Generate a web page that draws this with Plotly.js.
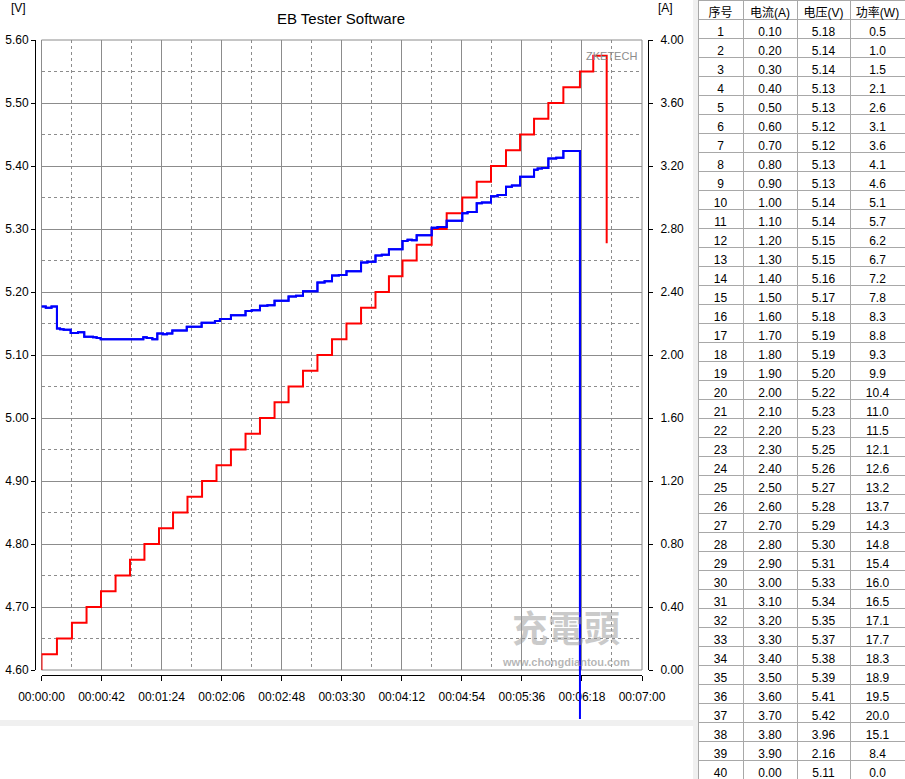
<!DOCTYPE html>
<html><head><meta charset="utf-8">
<script src="https://cdn.plot.ly/plotly-3.0.1.min.js"></script>
<style>html,body{margin:0;padding:0;background:#fff;}#chart{width:905px;height:779px;}</style>
</head><body><div id="chart"></div>
<script>
// ---- Current (red) step series: time in seconds, current in A ----
const curTime = [0, 0, 10.8, 21.3, 31.5, 41.6, 51.8, 61.9, 72.0, 82.2, 92.0, 102.1, 112.3, 122.4, 132.5, 142.7, 152.8, 163.0, 172.8, 182.9, 193.0, 203.2, 213.3, 223.5, 233.6, 243.0, 252.5, 262.4, 272.9, 283.4, 294.3, 304.4, 314.4, 324.9, 334.7, 344.5, 354.5, 365.0, 376.6, 385.9, 395.3];
const curAmps = [0, 0.1, 0.2, 0.3, 0.4, 0.5, 0.6, 0.7, 0.8, 0.9, 1.0, 1.1, 1.2, 1.3, 1.4, 1.5, 1.6, 1.7, 1.8, 1.9, 2.0, 2.1, 2.2, 2.3, 2.4, 2.5, 2.6, 2.7, 2.8, 2.9, 3.0, 3.1, 3.2, 3.3, 3.4, 3.5, 3.6, 3.7, 3.8, 3.9, 2.71];

// ---- Voltage (blue) step series: time in seconds, voltage in V ----
const voltTime = [0, 3, 7, 10.8, 13, 15.5, 20.4, 25.5, 29.9, 36, 38.6, 41.4, 71.2, 73.6, 77.5, 81, 85, 87.8, 91.5, 101.6, 112, 121.3, 124.8, 132.5, 142.7, 147, 152.8, 158, 163, 172.8, 178, 182.9, 193, 198, 203.2, 208, 213.3, 223.5, 228, 233.6, 238, 243, 252.5, 256, 259, 262.4, 272.9, 277, 283.4, 294.3, 298, 304.4, 308, 314.4, 319, 324.9, 329, 334.7, 344.5, 347, 350, 354.5, 360, 365, 376.6, 385.9, 395.3];
const voltVals = [5.177, 5.175, 5.177, 5.142, 5.141, 5.140, 5.135, 5.136, 5.129, 5.128, 5.127, 5.125, 5.128, 5.127, 5.125, 5.134, 5.133, 5.134, 5.139, 5.145, 5.151, 5.154, 5.157, 5.163, 5.170, 5.171, 5.178, 5.179, 5.186, 5.193, 5.194, 5.201, 5.215, 5.217, 5.226, 5.227, 5.233, 5.247, 5.248, 5.258, 5.259, 5.268, 5.281, 5.283, 5.282, 5.290, 5.302, 5.303, 5.313, 5.325, 5.327, 5.341, 5.342, 5.352, 5.354, 5.367, 5.369, 5.383, 5.394, 5.396, 5.397, 5.412, 5.413, 5.424, 3.96, 2.16, 2.16];

// ---- Axis ticks ----
const xTickVals = [0, 42, 84, 126, 168, 210, 252, 294, 336, 378, 420];
const xTickText = ['00:00:00', '00:00:42', '00:01:24', '00:02:06', '00:02:48', '00:03:30', '00:04:12', '00:04:54', '00:05:36', '00:06:18', '00:07:00'];

// ---- Table ----
const tblHeader = ['序号', '电流(A)', '电压(V)', '功率(W)'];
const tblNo = ['1','2','3','4','5','6','7','8','9','10','11','12','13','14','15','16','17','18','19','20','21','22','23','24','25','26','27','28','29','30','31','32','33','34','35','36','37','38','39','40'];
const tblAmp = ['0.10','0.20','0.30','0.40','0.50','0.60','0.70','0.80','0.90','1.00','1.10','1.20','1.30','1.40','1.50','1.60','1.70','1.80','1.90','2.00','2.10','2.20','2.30','2.40','2.50','2.60','2.70','2.80','2.90','3.00','3.10','3.20','3.30','3.40','3.50','3.60','3.70','3.80','3.90','0.00'];
const tblVolt = ['5.18','5.14','5.14','5.13','5.13','5.12','5.12','5.13','5.13','5.14','5.14','5.15','5.15','5.16','5.17','5.18','5.19','5.19','5.20','5.22','5.23','5.23','5.25','5.26','5.27','5.28','5.29','5.30','5.31','5.33','5.34','5.35','5.37','5.38','5.39','5.41','5.42','3.96','2.16','5.11'];
const tblWatt = ['0.5','1.0','1.5','2.1','2.6','3.1','3.6','4.1','4.6','5.1','5.7','6.2','6.7','7.2','7.8','8.3','8.8','9.3','9.9','10.4','11.0','11.5','12.1','12.6','13.2','13.7','14.3','14.8','15.4','16.0','16.5','17.1','17.7','18.3','18.9','19.5','20.0','15.1','8.4','0.0'];

const W = 905, H = 779;
const px = v => v / W;
const py = v => (H - v) / H;
const FONT = 'Liberation Sans, Arial, Noto Sans CJK SC, sans-serif';
const GRID = '#8c8c8c';
const xDom = [px(41.5), px(642)];
const yDom = [py(670), py(40)];

const traces = [
  {type:'scatter', mode:'lines', x:curTime, y:curAmps, xaxis:'x', yaxis:'y',
   line:{color:'#ff0000', width:2, shape:'hv'}, hoverinfo:'skip'},
  {type:'scatter', mode:'lines', x:voltTime, y:voltVals, xaxis:'x', yaxis:'y2',
   line:{color:'#0000ff', width:2, shape:'hv'}, hoverinfo:'skip'},
  // same voltage series on an extended (invisible) subplot so the drop runs below the frame as in the original
  {type:'scatter', mode:'lines', x:voltTime, y:voltVals, xaxis:'x2', yaxis:'y3',
   line:{color:'#0000ff', width:2, shape:'hv'}, hoverinfo:'skip'},
  {type:'table', domain:{x:[px(698), 1], y:[0, 1]}, columnwidth:[45, 54, 53, 55],
   header:{values:tblHeader, align:'center', height:19, fill:{color:'#ffffff'},
     line:{color:'#a8a8a8', width:1}, font:{family:FONT, size:12, color:'#000'}},
   cells:{values:[tblNo, tblAmp, tblVolt, tblWatt], align:'center', height:19, fill:{color:'#ffffff'},
     line:{color:'#a8a8a8', width:1}, font:{family:FONT, size:12, color:'#000'}}}
];

const layout = {
  width: W, height: H,
  margin:{l:0, r:0, t:0, b:0, pad:0},
  paper_bgcolor:'#ffffff', plot_bgcolor:'rgba(0,0,0,0)',
  showlegend:false,
  font:{family:FONT, size:12, color:'#000'},
  title:{text:'EB Tester Software', x:px(341), xanchor:'center', y:py(19), yanchor:'middle',
         font:{family:FONT, size:15, color:'#000'}},
  xaxis:{domain:xDom, range:[0, 420], anchor:'free', position:py(675),
    showline:true, linecolor:'#000', linewidth:1, ticks:'outside', ticklen:5, tickcolor:'#000',
    tickmode:'array', tickvals:xTickVals, ticktext:xTickText, tickfont:{size:12}, ticklabelstandoff:6,
    showgrid:true, gridcolor:GRID, gridwidth:1, zeroline:false,
    minor:{tickmode:'linear', tick0:0, dtick:21, showgrid:true, gridcolor:GRID, griddash:'3px,3px', ticks:''}},
  yaxis:{domain:yDom, range:[0, 4], anchor:'free', position:px(648), side:'right',
    showline:true, linecolor:'#000', linewidth:1, ticks:'outside', ticklen:4, tickcolor:'#000',
    tick0:0, dtick:0.4, tickformat:'.2f', tickfont:{size:12}, ticklabelstandoff:5,
    showgrid:true, gridcolor:GRID, gridwidth:1, zeroline:false,
    minor:{tick0:0, dtick:0.2, showgrid:true, gridcolor:GRID, griddash:'3px,3px', ticks:''}},
  yaxis2:{overlaying:'y', range:[4.6, 5.6], anchor:'free', position:px(35), side:'left',
    showline:true, linecolor:'#000', linewidth:1, ticks:'outside', ticklen:4, tickcolor:'#000',
    tick0:4.6, dtick:0.1, tickformat:'.2f', tickfont:{size:12},
    showgrid:false, zeroline:false},
  xaxis2:{domain:xDom, range:[0, 420], anchor:'y3', visible:false},
  yaxis3:{domain:[py(719), yDom[1]], range:[4.6 - 49/630, 5.6], anchor:'x2', visible:false},
  shapes:[
    {type:'rect', xref:'x domain', yref:'y domain', x0:0, x1:1, y0:0, y1:1,
     line:{color:GRID, width:1}, fillcolor:'rgba(0,0,0,0)', layer:'below'},
    {type:'rect', xref:'paper', yref:'paper', x0:0, x1:px(695), y0:py(726), y1:py(720),
     line:{width:0}, fillcolor:'#f0f0f0'},
    {type:'rect', xref:'paper', yref:'paper', x0:px(693), x1:px(698), y0:0, y1:1,
     line:{width:0}, fillcolor:'#f0f0f0'}
  ],
  annotations:[
    {text:'[V]', xref:'paper', yref:'paper', x:px(18), y:py(8), xanchor:'center', yanchor:'middle',
     showarrow:false, font:{size:12}},
    {text:'[A]', xref:'paper', yref:'paper', x:px(665), y:py(8), xanchor:'center', yanchor:'middle',
     showarrow:false, font:{size:12}},
    {text:'ZKETECH', xref:'paper', yref:'paper', x:px(611), y:py(56), xanchor:'center', yanchor:'middle',
     showarrow:false, font:{size:11, color:'#8c8c8c'}},
    {text:'<b>充電頭</b>', xref:'paper', yref:'paper', x:px(566), y:py(653), xanchor:'center', yanchor:'bottom',
     showarrow:false, borderpad:0, font:{family:'Noto Sans CJK SC, sans-serif', size:36, color:'rgba(150,150,150,0.5)'}},
    {text:'<b>www.chongdiantou.com</b>', xref:'paper', yref:'paper', x:px(566), y:py(655), xanchor:'center', yanchor:'top',
     showarrow:false, borderpad:0, font:{size:11, color:'rgba(150,150,150,0.7)'}}
  ]
};

Plotly.newPlot('chart', traces, layout, {displayModeBar:false, staticPlot:true});
</script>
</body></html>
